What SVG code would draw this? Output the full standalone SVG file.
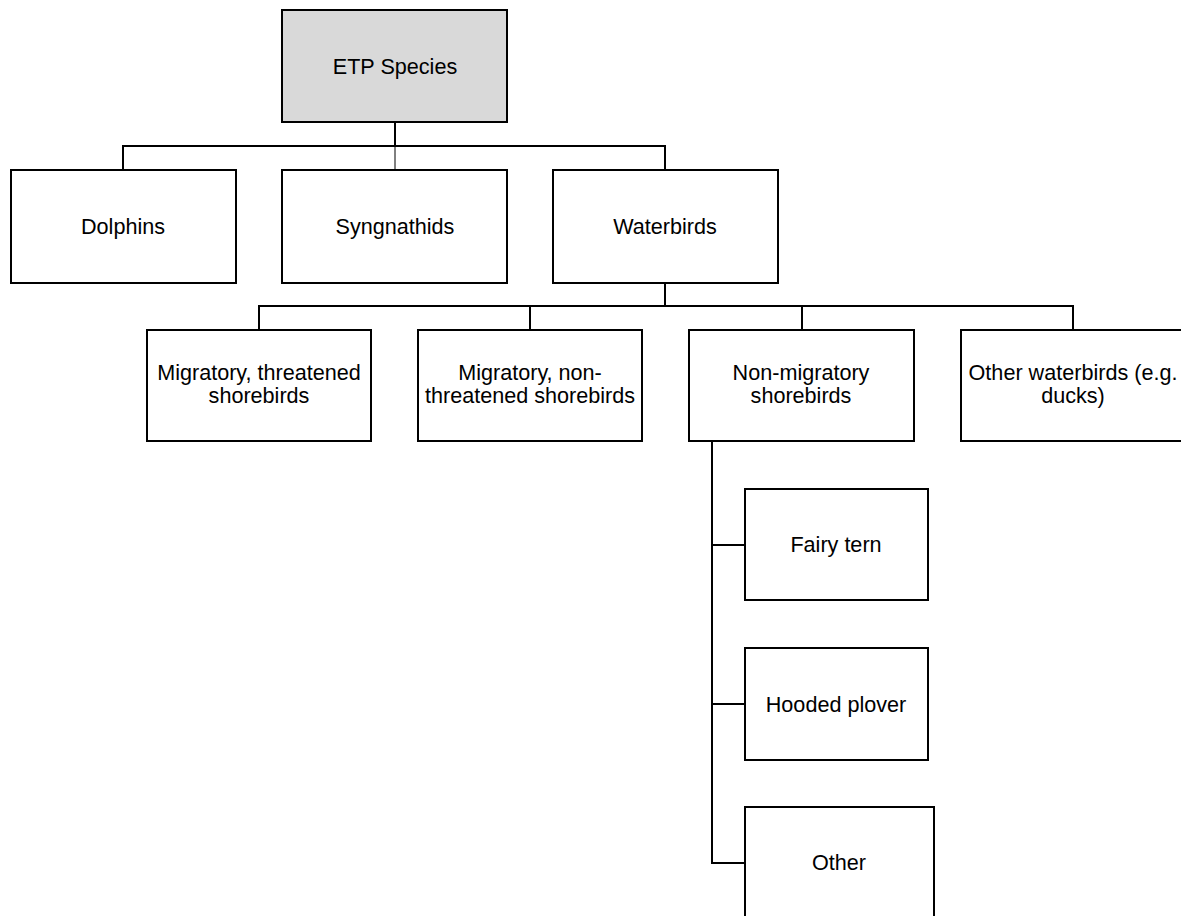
<svg xmlns="http://www.w3.org/2000/svg" width="1181" height="916" viewBox="0 0 1181 916">
<style>
.box{fill:#fff;stroke:#000;stroke-width:2}
.root{fill:#d9d9d9;stroke:#000;stroke-width:2}
.t{font-family:"Liberation Sans",Arial,sans-serif;font-size:21.6px;fill:#000;text-anchor:middle}
.c{fill:none;stroke:#000;stroke-width:2}
.thin{fill:none;stroke:#000;stroke-width:1}
</style>
<rect width="1181" height="916" fill="#fff"/>
<g id="connectors">
<path class="c" d="M395,122V146"/>
<path class="c" d="M123,170V146H665V170"/>
<path class="thin" d="M395,146V170"/>
<path class="c" d="M665,283V306"/>
<path class="c" d="M259,330V306H1073V330"/>
<path class="c" d="M530,306V330"/>
<path class="c" d="M802,306V330"/>
<path class="c" d="M712,441V863H745"/>
<path class="c" d="M712,545H745"/>
<path class="c" d="M712,704H745"/>
</g>
<g id="etp"><rect class="root" x="282" y="10" width="225" height="112"/><text class="t" x="395" y="74">ETP Species</text></g>
<g id="dolphins"><rect class="box" x="11" y="170" width="225" height="113"/><text class="t" x="123" y="234">Dolphins</text></g>
<g id="syngnathids"><rect class="box" x="282" y="170" width="225" height="113"/><text class="t" x="395" y="234">Syngnathids</text></g>
<g id="waterbirds"><rect class="box" x="553" y="170" width="225" height="113"/><text class="t" x="665" y="234">Waterbirds</text></g>
<g id="mig-threat"><rect class="box" x="147" y="330" width="224" height="111"/><text class="t" x="259" y="380">Migratory, threatened</text><text class="t" x="259" y="403">shorebirds</text></g>
<g id="mig-nonthreat"><rect class="box" x="418" y="330" width="224" height="111"/><text class="t" x="530" y="380">Migratory, non-</text><text class="t" x="530" y="403">threatened shorebirds</text></g>
<g id="non-mig"><rect class="box" x="689" y="330" width="225" height="111"/><text class="t" x="801" y="380">Non-migratory</text><text class="t" x="801" y="403">shorebirds</text></g>
<g id="other-water"><rect class="box" x="961" y="330" width="225" height="111"/><text class="t" x="1073" y="380">Other waterbirds (e.g.</text><text class="t" x="1073" y="403">ducks)</text></g>
<g id="fairy"><rect class="box" x="745" y="489" width="183" height="111"/><text class="t" x="836" y="552">Fairy tern</text></g>
<g id="hooded"><rect class="box" x="745" y="648" width="183" height="112"/><text class="t" x="836" y="712">Hooded plover</text></g>
<g id="other"><rect class="box" x="745" y="807" width="189" height="112"/><text class="t" x="839" y="870">Other</text></g>
</svg>
